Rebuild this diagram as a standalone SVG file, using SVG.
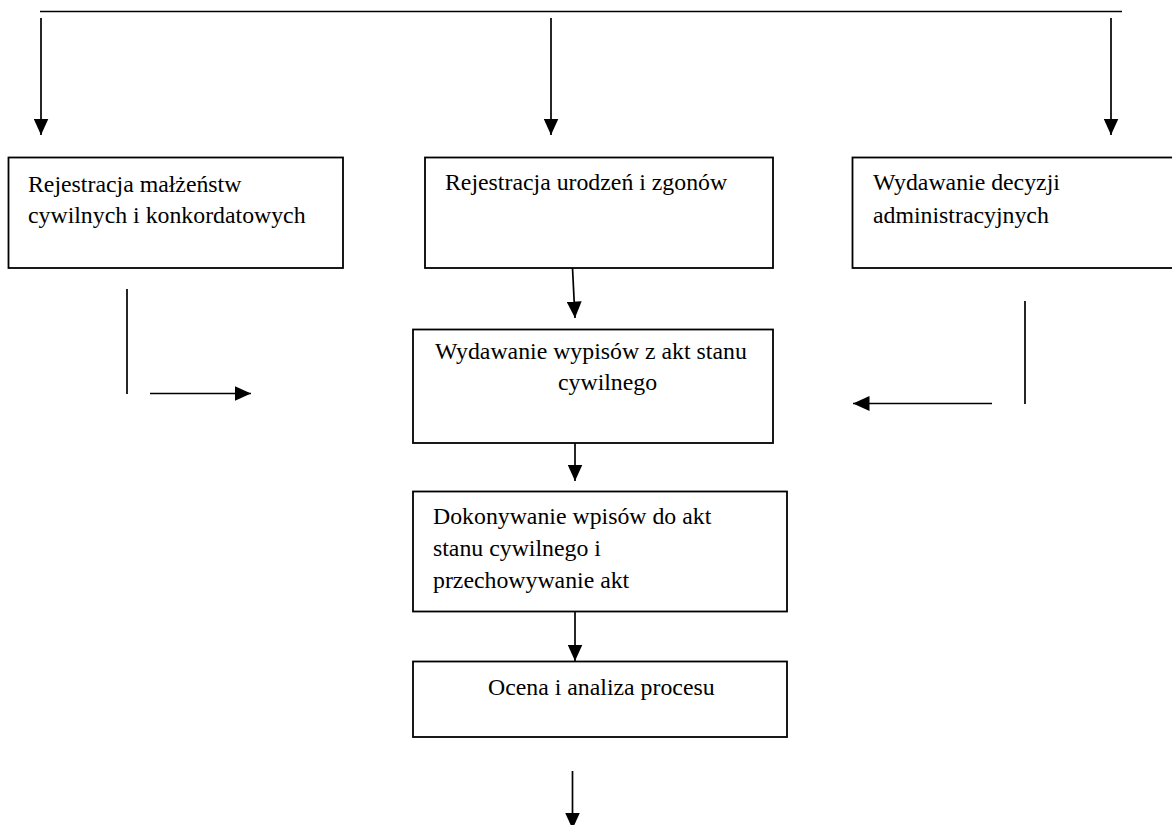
<svg xmlns="http://www.w3.org/2000/svg" width="1172" height="825" viewBox="0 0 1172 825">
<style>
.box{fill:#fff;stroke:#000;stroke-width:1.8}
.ln{stroke:#000;stroke-width:1.7;fill:none}
.t{font-family:"Liberation Serif","Times New Roman",serif;font-size:23.8px;fill:#000}
</style>
<defs>
<marker id="ah" markerUnits="userSpaceOnUse" markerWidth="16.5" markerHeight="15" refX="16.5" refY="7.5" orient="auto" viewBox="0 0 16.5 15">
<path d="M0,0 L16.5,7.5 L0,15 z" fill="#000"/>
</marker>
</defs>
<rect width="1172" height="825" fill="#fff"/>
<g id="connectors">
<line class="ln" x1="40" y1="11.5" x2="1122" y2="11.5"/>
<line class="ln" x1="41" y1="18" x2="41" y2="135" marker-end="url(#ah)"/>
<line class="ln" x1="551" y1="18" x2="551" y2="135" marker-end="url(#ah)"/>
<line class="ln" x1="1111" y1="18" x2="1111" y2="135" marker-end="url(#ah)"/>
<line class="ln" x1="572.5" y1="268" x2="575" y2="318" marker-end="url(#ah)"/>
<line class="ln" x1="127" y1="289" x2="127" y2="394"/>
<line class="ln" x1="150" y1="393.5" x2="251" y2="393.5" marker-end="url(#ah)"/>
<line class="ln" x1="1025" y1="301" x2="1025" y2="404"/>
<line class="ln" x1="992" y1="403.5" x2="853" y2="403.5" marker-end="url(#ah)"/>
<line class="ln" x1="575" y1="443" x2="575" y2="481" marker-end="url(#ah)"/>
<line class="ln" x1="575" y1="612" x2="575" y2="661" marker-end="url(#ah)"/>
<line class="ln" x1="572.5" y1="771" x2="572.5" y2="829" marker-end="url(#ah)"/>
</g>
<g id="n1">
<rect class="box" x="8.5" y="157.5" width="334.5" height="110.5"/>
<text class="t" x="28" y="192">Rejestracja małżeństw</text>
<text class="t" x="28" y="223">cywilnych i konkordatowych</text>
</g>
<g id="n2">
<rect class="box" x="425" y="157.5" width="348" height="110.5"/>
<text class="t" x="445" y="190">Rejestracja urodzeń i zgonów</text>
</g>
<g id="n3">
<rect class="box" x="852.5" y="157.5" width="330" height="110.5"/>
<text class="t" x="873" y="190">Wydawanie decyzji</text>
<text class="t" x="873" y="223">administracyjnych</text>
</g>
<g id="n4">
<rect class="box" x="413" y="329.5" width="360" height="113.5"/>
<text class="t" x="435" y="359">Wydawanie wypisów z akt stanu</text>
<text class="t" x="558" y="390">cywilnego</text>
</g>
<g id="n5">
<rect class="box" x="413" y="491.5" width="374" height="120"/>
<text class="t" x="433" y="524">Dokonywanie wpisów do akt</text>
<text class="t" x="433" y="556">stanu cywilnego i</text>
<text class="t" x="433" y="588">przechowywanie akt</text>
</g>
<g id="n6">
<rect class="box" x="413" y="661.5" width="374" height="75.5"/>
<text class="t" x="488" y="695">Ocena i analiza procesu</text>
</g>
</svg>
